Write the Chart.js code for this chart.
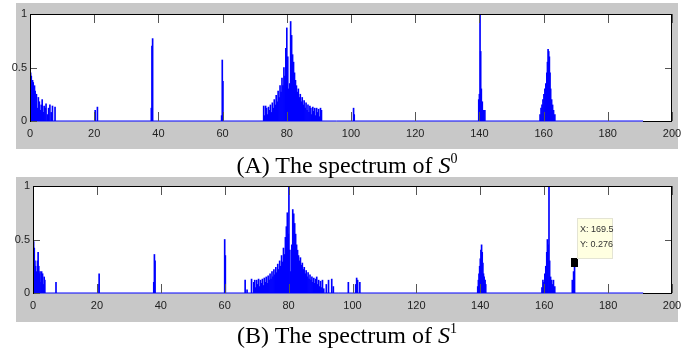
<!DOCTYPE html>
<html>
<head>
<meta charset="utf-8">
<script src="https://cdn.jsdelivr.net/npm/chart.js@4/dist/chart.umd.min.js"></script>
<style>
    body { margin: 0; background: #fff; width: 694px; height: 352px; position: relative; overflow: hidden; }
    .panel { position: absolute; left: 16px; width: 662px; background: #c8c8c8; }
    canvas { position: absolute; left: 0; }
    .caption {
        position: absolute; left: 0; width: 694px; text-align: center; white-space: nowrap;
        font-family: "Liberation Serif", "DejaVu Serif", serif; font-size: 24px; color: #000;
    }
    .caption sup { font-size: 14px; vertical-align: 10px; line-height: 0; }
</style>
</head>
<body>
<div class="panel" style="top:3px;height:146px"></div>
<div class="panel" style="top:177px;height:145px"></div>
<canvas id="specA" width="694" height="150" style="top:0"></canvas>
<canvas id="specB" width="694" height="152" style="top:172px"></canvas>
<div class="caption" style="top:152px">(A) The spectrum of <i>S</i><sup>0</sup></div>
<div class="caption" style="top:322px">(B) The spectrum of <i>S</i><sup>1</sup></div>

<script>
/* ====== DATA ====== */
const xTicks = [0, 20, 40, 60, 80, 100, 120, 140, 160, 180, 200];
const yTicks = [0, 0.5, 1];
const baselineEnd = 191;

// spectrum of S0 : frequency / amplitude of every spike
const freqA = [
    0, 0.2, 0.4, 0.6, 0.8, 1.0, 1.2, 1.4, 1.6, 1.8, 2.0, 2.3, 2.6, 2.9, 3.2, 3.5, 3.8, 4.1, 4.4, 4.7,
    5.0, 5.4, 5.8, 6.2, 6.6, 7.0, 7.8,
    20.3, 21.0,
    37.8, 38.0, 38.2,
    59.7, 59.9, 60.1,
    72.8, 73.1, 73.4, 73.7, 74.0, 74.3, 74.6, 74.9, 75.2, 75.5, 75.8, 76.1, 76.4, 76.7, 77.0, 77.3,
    77.6, 77.9, 78.2, 78.5, 78.8, 79.1, 79.4, 79.7, 80.0, 80.3, 80.6, 80.9, 81.2, 81.5, 81.8, 82.1,
    82.4, 82.7, 83.0, 83.3, 83.6, 83.9, 84.2, 84.5, 84.8, 85.1, 85.4, 85.7, 86.0, 86.3, 86.6, 86.9,
    87.2, 87.5, 87.8, 88.1, 88.4, 88.7, 89.0, 89.3, 89.6, 89.9, 90.2, 90.5, 90.8,
    100.8, 101.0,
    139.8, 140.0, 140.2, 140.4, 140.6, 140.9, 141.3, 141.7,
    158.9, 159.2, 159.5, 159.8, 160.1, 160.4, 160.7, 161.0, 161.2, 161.4, 161.6, 161.8, 162.0, 162.2,
    162.5, 162.8, 163.1, 163.5
];
const ampA = [
    0.79, 0.45, 0.42, 0.30, 0.38, 0.36, 0.22, 0.33, 0.28, 0.15, 0.25, 0.12, 0.22, 0.18, 0.10, 0.15, 0.20, 0.08, 0.14, 0.12,
    0.16, 0.06, 0.12, 0.15, 0.08, 0.14, 0.13,
    0.10, 0.13,
    0.12, 0.70, 0.77,
    0.05, 0.57, 0.37,
    0.14, 0.05, 0.14, 0.12, 0.06, 0.13, 0.10, 0.15, 0.08, 0.17, 0.12, 0.20, 0.15, 0.24, 0.18, 0.28,
    0.22, 0.33, 0.27, 0.40, 0.33, 0.50, 0.42, 0.68, 0.87, 0.60, 0.30, 0.35, 0.93, 0.80, 0.62, 0.55,
    0.45, 0.38, 0.33, 0.27, 0.30, 0.22, 0.25, 0.18, 0.22, 0.15, 0.19, 0.12, 0.17, 0.10, 0.15, 0.08,
    0.14, 0.12, 0.06, 0.13, 0.09, 0.12, 0.05, 0.12, 0.08, 0.11, 0.04, 0.12, 0.10,
    0.12, 0.06,
    0.20, 0.25, 1.00, 0.65, 0.30, 0.18, 0.10, 0.10,
    0.06, 0.12, 0.15, 0.20, 0.25, 0.30, 0.35, 0.45, 0.55, 0.67, 0.65, 0.60, 0.45, 0.30,
    0.20, 0.15, 0.10, 0.06
];

// spectrum of S1
const freqB = [
    0, 0.2, 0.4, 0.6, 0.8, 1.0, 1.2, 1.4, 1.6, 1.8, 2.0, 2.2, 2.5, 2.7, 3.0, 3.3, 3.5, 3.7,
    7.2,
    20.3, 20.7,
    37.8, 38.0, 38.2,
    60.0, 60.2,
    66.4, 67.0, 68.4, 69.1, 69.4, 69.7, 70.0, 70.3, 70.6, 70.9, 71.2, 71.5, 71.8, 72.1, 72.4, 72.7,
    73.0, 73.3, 73.6, 73.9, 74.2, 74.5, 74.8, 75.1, 75.4, 75.7, 76.0, 76.3, 76.6, 76.9, 77.2, 77.5,
    77.8, 78.1, 78.4, 78.7, 79.0, 79.3, 79.6, 79.9, 80.1, 80.4, 80.7, 81.0, 81.3, 81.6, 81.9, 82.2,
    82.5, 82.8, 83.1, 83.4, 83.7, 84.0, 84.3, 84.6, 84.9, 85.2, 85.5, 85.8, 86.1, 86.4, 86.7, 87.0,
    87.3, 87.6, 87.9, 88.2, 88.5, 88.8, 89.1, 89.4, 89.7, 90.0, 90.3, 90.6, 91.0, 91.8, 92.5, 93.5, 94.0,
    98.7, 101.0, 101.3, 101.6, 102.3,
    139.2, 139.4, 139.6, 139.8, 140.0, 140.2, 140.4, 140.6, 140.8, 141.0, 141.2, 141.5, 141.7,
    159.3, 159.6, 159.9, 160.2, 160.5, 160.8, 161.0, 161.2, 161.5, 161.7, 162.0, 162.3, 162.6, 162.9, 163.3,
    168.8, 169.2, 169.5
];
const ampB = [
    0.80, 0.48, 0.42, 0.30, 0.25, 0.20, 0.12, 0.30, 0.38, 0.25, 0.18, 0.20, 0.10, 0.20, 0.18, 0.08, 0.15, 0.12,
    0.10,
    0.08, 0.18,
    0.10, 0.36, 0.30,
    0.50, 0.35,
    0.12, 0.03, 0.13, 0.10, 0.12, 0.05, 0.12, 0.08, 0.13, 0.06, 0.12, 0.09, 0.13, 0.07, 0.14, 0.10,
    0.15, 0.09, 0.16, 0.12, 0.18, 0.13, 0.20, 0.15, 0.22, 0.17, 0.24, 0.19, 0.27, 0.22, 0.30, 0.25,
    0.35, 0.29, 0.42, 0.36, 0.52, 0.62, 0.75, 0.55, 1.00, 0.40, 0.20, 0.45, 0.78, 0.74, 0.65, 0.55,
    0.45, 0.40, 0.35, 0.30, 0.33, 0.26, 0.28, 0.22, 0.24, 0.18, 0.21, 0.15, 0.19, 0.13, 0.17, 0.12,
    0.15, 0.10, 0.14, 0.09, 0.13, 0.15, 0.08, 0.12, 0.06, 0.11, 0.05, 0.12, 0.04, 0.08, 0.12, 0.13, 0.06,
    0.10, 0.08, 0.14, 0.12, 0.10,
    0.06, 0.12, 0.18, 0.25, 0.32, 0.40, 0.45, 0.38, 0.28, 0.18, 0.15, 0.12, 0.08,
    0.05, 0.12, 0.10, 0.18, 0.25, 0.38, 0.50, 0.45, 1.00, 0.30, 0.15, 0.12, 0.08, 0.12, 0.06,
    0.12, 0.20, 0.276
];

// data tip shown on the S1 plot
const tipX = 169.5;
const tipY = 0.276;

/* ====== MATLAB STYLE AXES BOX ====== */
const tickFont = { family: "'Liberation Sans Narrow', 'Liberation Sans', Arial, sans-serif", size: 11 };

function drawBox(chart) {
    const { ctx, chartArea: a, scales: { x, y } } = chart;
    const L = Math.round(a.left), R = Math.round(a.right) - 1;
    const T = Math.round(a.top), B = Math.round(y.getPixelForValue(0));
    ctx.save();
    // inward tick marks
    ctx.fillStyle = "#555555";
    xTicks.forEach(v => {
        const px = Math.round(x.getPixelForValue(v));
        ctx.fillRect(px, B - 9, 1, 9);
        ctx.fillRect(px, T, 1, 9);
    });
    yTicks.forEach(v => {
        const py = Math.round(y.getPixelForValue(v));
        ctx.fillRect(L, py, 7, 1);
        ctx.fillRect(R - 6, py, 7, 1);
    });
    // box: left, top, right and the part of the bottom that the zero line does not cover
    ctx.fillStyle = "#000000";
    ctx.fillRect(L, T, R - L + 1, 1);
    ctx.fillRect(L, T, 1, B - T + 1);
    ctx.fillRect(R, T, 1, B - T + 1);
    const bx = Math.round(x.getPixelForValue(baselineEnd));
    ctx.fillRect(bx, B, R - bx + 1, 1);
    ctx.restore();
}

function drawTip(chart) {
    const { ctx, scales: { x, y } } = chart;
    const px = Math.round(x.getPixelForValue(tipX));
    const py = Math.round(y.getPixelForValue(tipY));
    ctx.save();
    ctx.fillStyle = "#000";
    ctx.fillRect(px - 4, py - 5, 7, 9);
    const bx = px + 2, by = py - 45;
    ctx.fillStyle = "#e4e4d4";
    ctx.fillRect(bx, by, 36, 41);
    ctx.fillStyle = "#ffffe1";
    ctx.fillRect(bx + 1, by + 1, 34, 39);
    ctx.fillStyle = "#333";
    ctx.font = "9px 'Liberation Sans Narrow', 'Liberation Sans', sans-serif";
    ctx.textBaseline = "middle";
    ctx.fillText("X: " + tipX, bx + 3, by + 12);
    ctx.fillText("Y: " + tipY, bx + 3, by + 27);
    ctx.restore();
}

const matlabAxes = {
    id: "matlabAxes",
    beforeDraw(chart) {
        const { ctx, chartArea: a } = chart;
        ctx.save();
        ctx.fillStyle = "#fff";
        ctx.fillRect(a.left, a.top, a.right - a.left, a.bottom - a.top);
        ctx.restore();
    },
    afterDraw(chart) {
        drawBox(chart);
        if (chart.canvas.id === "specB") drawTip(chart);
    }
};

/* ====== BUILD ONE SPECTRUM PLOT ====== */
function spectrum(id, freq, amp, yAxisWidth, xAxisHeight) {
    new Chart(document.getElementById(id), {
        type: "bar",
        data: {
            datasets: [
                {
                    type: "line",
                    data: [{ x: 0, y: 0 }, { x: baselineEnd, y: 0 }],
                    borderColor: "#0000ff",
                    borderWidth: 1,
                    pointRadius: 0,
                    clip: false,
                    order: 1
                },
                {
                    data: freq.map((f, i) => ({ x: f, y: amp[i] })),
                    backgroundColor: "#0000ff",
                    borderWidth: 0,
                    barThickness: 1,
                    order: 0
                }
            ]
        },
        options: {
            responsive: false,
            animation: false,
            devicePixelRatio: 1,
            layout: { padding: { left: 0, top: 14, right: 22, bottom: 0 } },
            plugins: { legend: { display: false }, tooltip: { enabled: false } },
            scales: {
                x: {
                    type: "linear",
                    offset: false,
                    min: 0, max: 200,
                    grid: { display: false, drawTicks: false },
                    border: { display: false },
                    afterBuildTicks: s => { s.ticks = xTicks.map(v => ({ value: v })); },
                    afterFit: s => { s.height = xAxisHeight; },
                    ticks: { color: "#222", font: tickFont, padding: 6, maxRotation: 0, autoSkip: false }
                },
                y: {
                    min: 0, max: 1,
                    grid: { display: false, drawTicks: false },
                    border: { display: false },
                    afterBuildTicks: s => { s.ticks = yTicks.map(v => ({ value: v })); },
                    afterFit: s => { s.width = yAxisWidth; },
                    ticks: { color: "#222", font: tickFont, padding: 3, callback: v => String(v) }
                }
            }
        },
        plugins: [matlabAxes]
    });
}

spectrum("specA", freqA, ampA, 30, 29);
spectrum("specB", freqB, ampB, 33, 31);
</script>
</body>
</html>
